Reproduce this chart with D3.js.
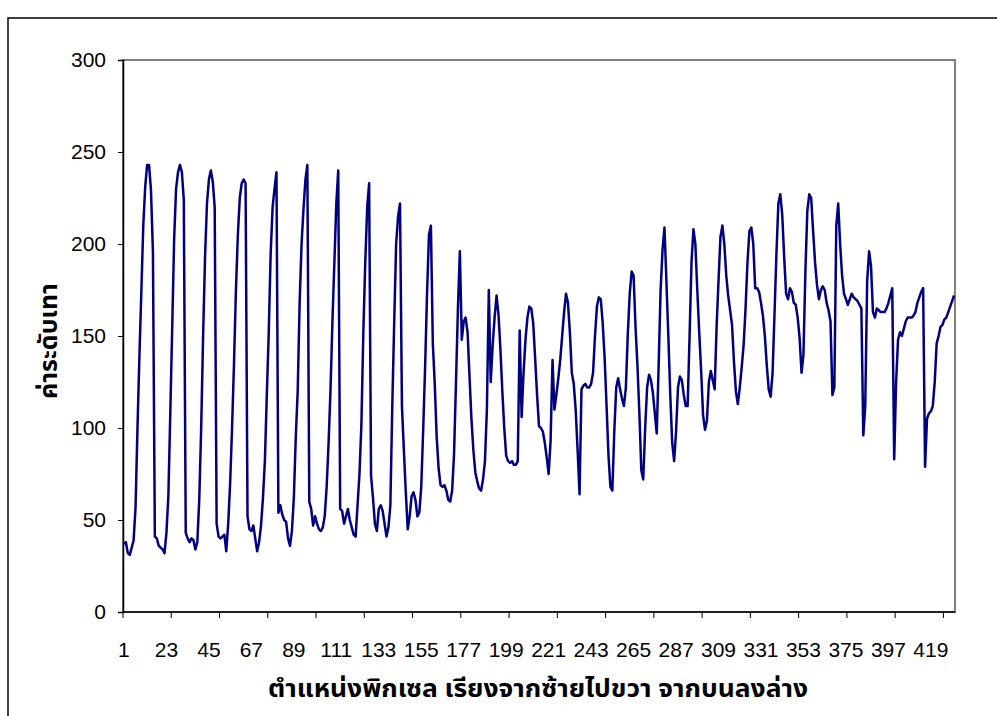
<!DOCTYPE html>
<html><head><meta charset="utf-8">
<script src="https://cdn.jsdelivr.net/npm/d3@7"></script>
<style>body{margin:0;background:#fff}svg{display:block}</style>
</head><body>
<svg id="chart" width="997" height="716"></svg>
<script>
// grey level per pixel position
const values = [
37,38,32,31,35,39,57,100,139,174,210,231,243,243,229,196,41,40,36,35,
34,32,43,63,108,155,203,230,239,243,239,224,43,40,38,40,39,34,38,61,
100,150,193,222,235,240,234,220,48,41,40,41,42,33,48,70,100,135,175,205,
225,233,235,233,52,45,44,47,40,33,38,47,62,82,118,152,195,220,230,239,
54,58,53,50,49,40,36,44,62,95,120,168,200,219,235,243,60,56,47,52,
48,45,44,46,52,68,92,121,158,190,222,240,56,55,48,52,56,50,46,42,
41,58,75,102,152,190,220,233,74,62,48,44,56,58,55,48,41,46,58,112,
158,200,215,222,112,88,65,45,52,63,65,61,52,54,68,99,133,173,205,210,
146,124,95,78,69,68,69,66,61,60,66,86,125,165,196,148,158,160,152,128,
105,88,76,71,67,66,72,82,110,175,125,145,160,172,162,143,120,100,85,82,
81,82,80,80,82,153,106,130,148,160,166,165,157,138,118,101,100,98,92,84,
75,93,137,110,118,127,137,150,163,173,168,152,130,124,110,88,64,121,123,124,
122,122,124,130,150,166,171,170,157,138,112,85,68,66,98,122,127,121,116,112,
122,151,173,185,183,155,134,108,77,72,100,122,129,126,119,108,97,135,175,197,
209,180,150,118,92,82,98,122,128,126,118,112,112,150,190,208,200,175,152,131,
107,99,104,125,131,126,121,155,180,204,210,200,183,172,164,156,136,120,113,122,
133,145,165,190,207,209,200,176,176,174,168,161,150,134,121,117,130,162,195,222,
227,216,193,173,170,176,174,168,167,160,149,130,140,185,218,227,225,207,190,178,
170,175,177,175,168,164,158,118,122,210,222,200,183,173,170,167,170,173,171,170,
169,167,165,96,112,180,196,188,163,160,165,164,163,163,163,165,168,172,176,83,
125,148,152,150,154,158,160,160,160,161,163,168,171,174,176,79,105,108,109,112,
125,146,150,155,156,159,160,163,166,169,172
];
const categories = values.map((v, i) => i + 1);
const yTicks = [0, 50, 100, 150, 200, 250, 300];
const xLabelEvery = 22;
const xTickEvery = 25;
const xTitle = "ตำแหน่งพิกเซล เรียงจากซ้ายไปขวา จากบนลงล่าง";
const yTitle = "ค่าระดับเทา";

const svg = d3.select("#chart");
const P = {left: 123, top: 60, right: 955, bottom: 612};
const x = d3.scaleBand().domain(categories).range([P.left, P.right]).padding(0);
const xc = c => x(c) + x.bandwidth() / 2;
const y = d3.scaleLinear().domain([0, 300]).range([P.bottom, P.top]);
const fontNum = "'Liberation Sans', Arial, sans-serif";
const fontThai = "'Noto Sans Thai', 'Noto Sans', 'DejaVu Sans', sans-serif";

// outer frame
svg.append("rect").attr("x", 8).attr("y", 18).attr("width", 1000).attr("height", 720)
  .attr("fill", "none").attr("stroke", "#000").attr("stroke-width", 1.5);

// plot area border
svg.append("rect").attr("x", P.left).attr("y", P.top)
  .attr("width", P.right - P.left).attr("height", P.bottom - P.top)
  .attr("fill", "none").attr("stroke", "#808080").attr("stroke-width", 2);

// y axis
const yAxis = d3.axisLeft(y).tickValues(yTicks).tickSize(5).tickPadding(12);
const gy = svg.append("g").attr("transform", `translate(${P.left},0)`).call(yAxis);
gy.select(".domain").attr("stroke", "#000").attr("stroke-width", 1.5);
gy.selectAll(".tick line").attr("stroke", "#000");
gy.selectAll("text").attr("font-family", fontNum).attr("font-size", 21).attr("fill", "#000");

// x axis: tick marks every 25 categories, labels every 22
const tickCats = categories.filter(c => (c - 1) % xTickEvery === 0);
const gx = svg.append("g").attr("transform", `translate(0,${P.bottom})`);
gx.append("line").attr("x1", P.left).attr("x2", P.right).attr("stroke", "#000").attr("stroke-width", 1.5);
gx.selectAll("line.tk").data(tickCats).join("line").attr("class", "tk")
  .attr("x1", c => x(c)).attr("x2", c => x(c)).attr("y1", 0).attr("y2", 6).attr("stroke", "#000");
const labelCats = categories.filter(c => (c - 1) % xLabelEvery === 0);
gx.selectAll("text").data(labelCats).join("text")
  .attr("x", c => xc(c)).attr("y", 45).attr("text-anchor", "middle")
  .attr("font-family", fontNum).attr("font-size", 21).text(c => c);

// line
const line = d3.line().x((d, i) => xc(categories[i])).y(d => y(d));
svg.append("path").datum(values).attr("d", line)
  .attr("fill", "none").attr("stroke", "#000080").attr("stroke-width", 2.5)
  .attr("stroke-linejoin", "round");

// titles
svg.append("text").attr("x", 538).attr("y", 697).attr("text-anchor", "middle")
  .attr("font-family", fontThai).attr("font-weight", "bold").attr("font-size", 25)
  .attr("textLength", 540).attr("lengthAdjust", "spacingAndGlyphs").text(xTitle);
svg.append("text").attr("transform", "translate(57,341) rotate(-90)").attr("text-anchor", "middle")
  .attr("font-family", fontThai).attr("font-weight", "bold").attr("font-size", 25)
  .attr("textLength", 116).attr("lengthAdjust", "spacingAndGlyphs").text(yTitle);
</script>
</body></html>
